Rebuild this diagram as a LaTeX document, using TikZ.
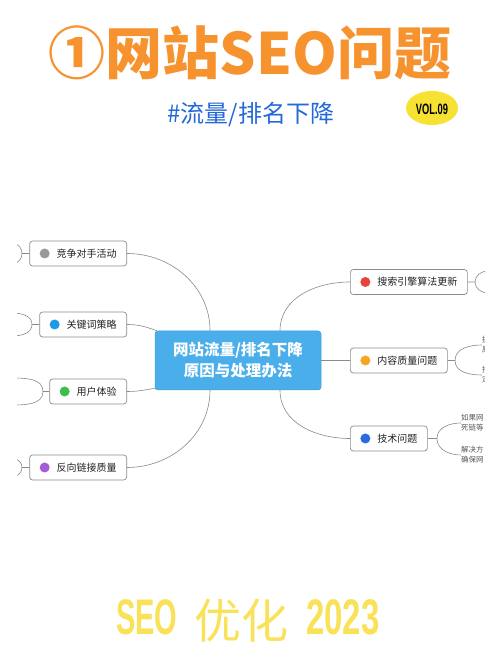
\documentclass[tikz,border=0pt]{standalone}
\usepackage{fontspec}
\setmainfont{Noto Sans CJK SC}
\newfontfamily\lib{Liberation Sans}
\usetikzlibrary{shapes.geometric}
\definecolor{torange}{HTML}{F7932E}
\definecolor{tblue}{HTML}{2369D7}
\definecolor{volyellow}{HTML}{F7E234}
\definecolor{byellow}{HTML}{F9E158}
\definecolor{cblue}{HTML}{4AAEEA}
\definecolor{boxgray}{HTML}{8C8C8C}
\definecolor{linegray}{HTML}{8A8A8A}
\definecolor{textdark}{HTML}{222222}
\definecolor{dgray}{HTML}{999999}
\definecolor{dblue}{HTML}{1E9BE8}
\definecolor{dgreen}{HTML}{3DBE4A}
\definecolor{dpurple}{HTML}{A35BD6}
\definecolor{dred}{HTML}{E8423B}
\definecolor{dorange}{HTML}{F5A623}
\definecolor{dblue2}{HTML}{2B6BE0}
\newcommand{\leafdot}[1]{\tikz[baseline=-3.8pt]\fill[#1] (0,0) circle (5pt);\hspace{7pt}}
\begin{document}
\begin{tikzpicture}[x=1pt,y=1pt,
  leaf/.style={draw=boxgray, line width=0.7pt, rounded corners=3pt, fill=white,
    minimum height=25pt, inner xsep=10pt, inner ysep=0pt,
    font=\fontsize{10}{12}\selectfont, text=textdark},
  conn/.style={draw=linegray, line width=0.6pt},
  small/.style={font=\fontsize{7.5}{10}\selectfont, text=textdark!75, align=left, inner sep=0pt}]
\useasboundingbox (0,0) rectangle (500,667);
\fill[white] (0,0) rectangle (500,667);

% title
\node[text=torange, font=\fontsize{57}{60}\selectfont\bfseries, inner sep=0pt] (title) at (250,614) {①网站SEO问题};
\node[text=tblue, font=\fontsize{24}{26}\selectfont, inner sep=0pt] (sub) at (251,552) {\#流量/排名下降};
\node[ellipse, fill=volyellow, minimum width=52pt, minimum height=34pt, inner sep=0pt] (vol) at (432,559) {};
\node[inner sep=0pt, font=\lib\bfseries\fontsize{15}{16}\selectfont] (voltxt) at (432,558) {\scalebox{0.62}[1]{VOL.09}};

% center
\node[fill=cblue, draw=cblue!90!black, line width=0.5pt, rounded corners=3pt, minimum width=166pt, minimum height=59pt,
  text=white, font=\fontsize{15.5}{21}\selectfont\bfseries, align=center, inner sep=0pt] (c) at (238,306.5)
  {网站流量/排名下降\\原因与处理办法};

% left leaves
\node[leaf, anchor=east] (l1) at (127,413.5) {\leafdot{dgray}竞争对手活动};
\node[leaf, anchor=east] (l2) at (127,342.5) {\leafdot{dblue}关键词策略};
\node[leaf, anchor=east] (l3) at (127,275.5) {\leafdot{dgreen}用户体验};
\node[leaf, anchor=east] (l4) at (127,199.5) {\leafdot{dpurple}反向链接质量};
% right leaves
\node[leaf, anchor=west] (r1) at (350,385) {\leafdot{dred}搜索引擎算法更新};
\node[leaf, anchor=west] (r2) at (350,306.5) {\leafdot{dorange}内容质量问题};
\node[leaf, anchor=west] (r3) at (350,228.5) {\leafdot{dblue2}技术问题};

% connectors from center
\draw[conn] (l1.east) to[out=0,in=90] ([xshift=-28pt]c.north);
\draw[conn] (l2.east) to[out=0,in=160] ([xshift=2pt]c.north west);
\draw[conn] (l3.east) to[out=0,in=190] ([yshift=2pt]c.south west);
\draw[conn] (l4.east) to[out=0,in=-90] ([xshift=-28pt]c.south);
\draw[conn] ([xshift=42pt]c.north) to[out=90,in=180] (r1.west);
\draw[conn] (c.east) -- (r2.west);
\draw[conn] ([xshift=42pt]c.south) to[out=-90,in=180] (r3.west);

% forks (clipped)
\begin{scope}
\clip (17,150) rectangle (485,520);
\coordinate (l1j) at (22,413.5); \coordinate (l1a) at (14,423); \coordinate (l1b) at (14,404);
\coordinate (l2j) at (32,342.5); \coordinate (l2a) at (12,354); \coordinate (l2b) at (12,331);
\coordinate (l3j) at (43,275.5); \coordinate (l3a) at (12,289); \coordinate (l3b) at (12,262);
\coordinate (l4j) at (22,199.5); \coordinate (l4a) at (14,208); \coordinate (l4b) at (14,191);
\draw[conn] (l1.west) -- (l1j) to[out=90,in=0] (l1a);
\draw[conn] (l1j) to[out=-90,in=0] (l1b);
\draw[conn] (l2.west) -- (l2j) to[out=90,in=0] (l2a);
\draw[conn] (l2j) to[out=-90,in=0] (l2b);
\draw[conn] (l3.west) -- (l3j) to[out=90,in=0] (l3a);
\draw[conn] (l3j) to[out=-90,in=0] (l3b);
\draw[conn] (l4.west) -- (l4j) to[out=90,in=0] (l4a);
\draw[conn] (l4j) to[out=-90,in=0] (l4b);

\coordinate (r1j) at (475,385); \coordinate (r1a) at (488,396); \coordinate (r1b) at (488,374);
\coordinate (r2j) at (455,306.5);
\coordinate (r3j) at (437,228.5);
\draw[conn] (r1.east) -- (r1j) to[out=90,in=180] (r1a);
\draw[conn] (r1j) to[out=-90,in=180] (r1b);
\draw[conn] (r3.east) -- (r3j);
\node[small, anchor=west] (r3t1) at (461,244) {如果网\\死链等};
\node[small, anchor=west] (r3t2) at (461,212) {解决方\\确保网};
\draw[conn] (r3j) to[out=90,in=180] (r3t1.west);
\draw[conn] (r3j) to[out=-90,in=180] (r3t2.west);
\end{scope}
\begin{scope}
\clip (17,150) rectangle (484,520);
\node[small, anchor=west] (r2t1) at (482,322) {提\\原};
\node[small, anchor=west] (r2t2) at (482,292) {持\\定};
\draw[conn] (r2.east) -- (r2j) to[out=90,in=180] (r2t1.west);
\draw[conn] (r2j) to[out=-90,in=180] (r2t2.west);
\end{scope}

% bottom
\node[text=byellow, anchor=base west, inner sep=0pt, font=\lib\bfseries\fontsize{50}{52}\selectfont] (seo) at (116,32) {\scalebox{0.58}[1]{SEO}};
\node[text=byellow, anchor=base west, inner sep=0pt, font=\fontsize{47}{50}\selectfont] (yh) at (194,28) {优化};
\node[text=byellow, anchor=base west, inner sep=0pt, font=\lib\bfseries\fontsize{50}{52}\selectfont] (yr) at (306,32) {\scalebox{0.66}[1]{2023}};
\end{tikzpicture}
\end{document}
